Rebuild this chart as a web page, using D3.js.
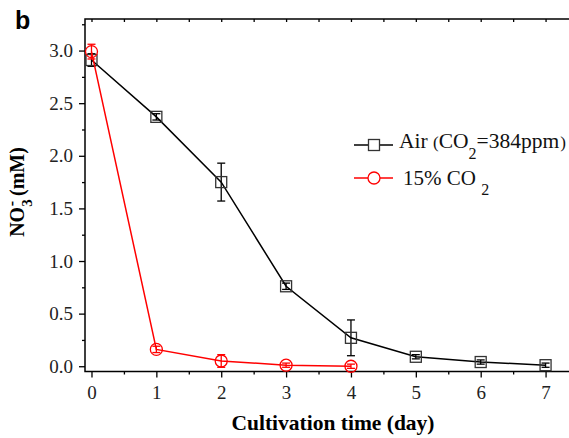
<!DOCTYPE html>
<html>
<head>
<meta charset="utf-8">
<script src="https://cdn.jsdelivr.net/npm/d3@7"></script>
<style>
  html, body { margin: 0; padding: 0; background: #fff; }
  svg { display: block; }
  svg text { font-family: 'Liberation Serif', 'Times New Roman', Times, serif; }
  svg text.sans { font-family: 'Liberation Sans', Arial, sans-serif; }
</style>
</head>
<body>
<div id="chart"></div>
<script>
// data
const days = [0, 1, 2, 3, 4, 5, 6, 7];
const airMean = [2.91, 2.37, 1.75, 0.76, 0.27, 0.09, 0.04, 0.01];
const airErr = [0.06, 0.03, 0.18, 0.03, 0.17, 0.02, 0.02, 0.02];
const co2Days = [0, 1, 2, 3, 4];
const co2Mean = [2.99, 0.16, 0.05, 0.01, 0.0];
const co2Err = [0.07, 0.03, 0.06, 0.02, 0.02];
const xTicks = [0, 1, 2, 3, 4, 5, 6, 7];
const yTicks = [0, 0.5, 1.0, 1.5, 2.0, 2.5, 3.0];

const W = 569, H = 438;

const svg = d3.select('#chart').append('svg')
  .attr('width', W).attr('height', H);

const x = d3.scaleLinear().domain([-0.1, 7.5]).range([85, 578]);
const y = d3.scaleLinear().domain([-0.05, 3.3]).range([371.5, 19]);

// frame
svg.append('rect')
  .attr('x', x(-0.1)).attr('y', y(3.3))
  .attr('width', x(7.5) - x(-0.1)).attr('height', y(-0.05) - y(3.3))
  .attr('fill', 'none').attr('stroke', '#000').attr('stroke-width', 1.5);

// minor ticks
const xMinor = d3.range(0.5, 7.5, 1);
const yMinor = d3.range(0.25, 3.3, 0.5);

const axB = svg.append('g').attr('transform', `translate(0,${y(-0.05)})`);
axB.append('g').call(d3.axisBottom(x).tickValues(xMinor).tickSize(3).tickFormat(''));
axB.append('g').call(d3.axisBottom(x).tickValues(xTicks).tickSize(6).tickPadding(8).tickFormat(d3.format('d')));
axB.selectAll('.domain').remove();

const axL = svg.append('g').attr('transform', `translate(${x(-0.1)},0)`);
axL.append('g').call(d3.axisLeft(y).tickValues(yMinor).tickSize(3).tickFormat(''));
axL.append('g').call(d3.axisLeft(y).tickValues(yTicks).tickSize(6).tickPadding(6).tickFormat(d3.format('.1f')));
axL.selectAll('.domain').remove();

const axT = svg.append('g').attr('transform', `translate(0,${y(3.3)})`);
axT.call(d3.axisTop(x).tickValues(xTicks.concat(xMinor)).tickSize(-3).tickFormat(''));
axT.selectAll('.domain').remove();

// d3 axes set font-family on the group; clear it so the stylesheet wins
svg.selectAll('g').attr('font-family', null);
svg.selectAll('.tick line').attr('stroke', '#000').attr('stroke-width', 1.3);
svg.selectAll('.tick text')
  .attr('font-size', 19).attr('fill', '#222');

// axis titles
svg.append('text')
  .attr('x', 333).attr('y', 430)
  .attr('text-anchor', 'middle')
  .attr('font-weight', 'bold').attr('font-size', 21.5)
  .text('Cultivation time (day)');

const yl = svg.append('text')
  .attr('transform', 'translate(24,192) rotate(-90)')
  .attr('text-anchor', 'middle')
  .attr('font-weight', 'bold').attr('font-size', 20);
yl.append('tspan').text('NO');
yl.append('tspan').attr('font-size', 15).attr('dy', 8).text('3');
yl.append('tspan').attr('font-size', 16).attr('dx', -7).attr('dy', -15).text('-');
yl.append('tspan').attr('dy', 7).text(' (mM)');

// panel letter
svg.append('text')
  .attr('class', 'sans')
  .attr('x', 15).attr('y', 29)
  .attr('font-weight', 'bold').attr('font-size', 25)
  .text('b');

// series
const series = [
  { days: days, mean: airMean, err: airErr, color: '#000', shape: 'square' },
  { days: co2Days, mean: co2Mean, err: co2Err, color: '#ff0000', shape: 'circle' }
];

const line = d3.line().x(d => x(d[0])).y(d => y(d[1]));

series.forEach(s => {
  const pts = s.days.map((d, i) => [d, s.mean[i], s.err[i]]);
  const g = svg.append('g');
  g.append('path')
    .datum(pts)
    .attr('d', line)
    .attr('fill', 'none').attr('stroke', s.color).attr('stroke-width', 1.5);

  const eb = g.selectAll('.eb').data(pts).join('g').attr('stroke', s.color).attr('stroke-width', 1.3);
  eb.append('line')
    .attr('x1', d => x(d[0])).attr('x2', d => x(d[0]))
    .attr('y1', d => y(d[1] - d[2])).attr('y2', d => y(d[1] + d[2]));
  [-1, 1].forEach(sg => {
    eb.append('line')
      .attr('x1', d => x(d[0]) - 4).attr('x2', d => x(d[0]) + 4)
      .attr('y1', d => y(d[1] + sg * d[2])).attr('y2', d => y(d[1] + sg * d[2]));
  });

  if (s.shape === 'square') {
    g.selectAll('.m').data(pts).join('rect')
      .attr('x', d => x(d[0]) - 5.5).attr('y', d => y(d[1]) - 5.5)
      .attr('width', 11).attr('height', 11)
      .attr('fill', 'none').attr('stroke', '#333').attr('stroke-width', 1.3);
  } else {
    g.selectAll('.m').data(pts).join('circle')
      .attr('cx', d => x(d[0])).attr('cy', d => y(d[1])).attr('r', 6)
      .attr('fill', 'none').attr('stroke', s.color).attr('stroke-width', 1.3);
  }
});

// legend
const lg = svg.append('g');
lg.append('line').attr('x1', 354).attr('x2', 393).attr('y1', 145).attr('y2', 145)
  .attr('stroke', '#000').attr('stroke-width', 1.5);
lg.append('rect').attr('x', 368.5).attr('y', 139.5).attr('width', 11).attr('height', 11)
  .attr('fill', '#fff').attr('stroke', '#333').attr('stroke-width', 1.3);
const t1 = lg.append('text').attr('x', 399).attr('y', 148)
  .attr('font-size', 21.5).attr('fill', '#111');
t1.append('tspan').text('Air ');
t1.append('tspan').attr('font-size', 17).text('(');
t1.append('tspan').text('CO');
t1.append('tspan').attr('font-size', 16).attr('dy', 11).text('2');
t1.append('tspan').attr('dy', -11).text('=384ppm');
t1.append('tspan').attr('font-size', 17).attr('dx', 1).text(')');

lg.append('line').attr('x1', 354).attr('x2', 393).attr('y1', 178).attr('y2', 178)
  .attr('stroke', '#ff0000').attr('stroke-width', 1.5);
lg.append('circle').attr('cx', 374).attr('cy', 178).attr('r', 6)
  .attr('fill', '#fff').attr('stroke', '#ff0000').attr('stroke-width', 1.3);
const t2 = lg.append('text').attr('x', 403).attr('y', 185)
  .attr('font-size', 21).attr('fill', '#111');
t2.append('tspan').text('15% CO ');
t2.append('tspan').attr('font-size', 16).attr('dy', 10).text('2');
</script>
</body>
</html>
